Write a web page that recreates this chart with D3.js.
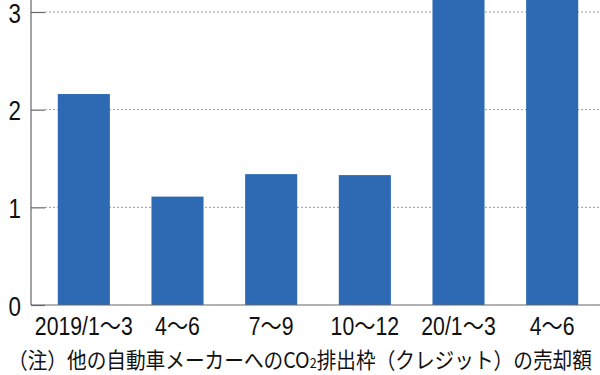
<!DOCTYPE html>
<html>
<head>
<meta charset="utf-8">
<script src="https://cdnjs.cloudflare.com/ajax/libs/d3/7.8.5/d3.min.js"></script>
<style>
  body { margin: 0; background: #fff; }
  svg { display: block; }
</style>
</head>
<body>
<div id="chart"></div>
<script>
// quarters and credit sales (億ドル)
const quarters = ["2019/1～3", "4～6", "7～9", "10～12", "20/1～3", "4～6"];
const sales = [2.16, 1.11, 1.34, 1.33, 3.54, 4.28];
const yTicks = [0, 1, 2, 3];
const note = ["（注）他の自動車メーカーへのCO", "2", "排出枠（クレジット）の売却額"];

const width = 600, height = 375;
const axisX = 31, baseY = 305;
const numFont = "'Liberation Sans', Arial, 'Noto Sans CJK JP', sans-serif";

const svg = d3.select("#chart").append("svg")
    .attr("width", width).attr("height", height);

const x = d3.scaleBand()
    .domain(d3.range(quarters.length))
    .range([37, 599])
    .paddingInner(0.444)
    .paddingOuter(0.222);

const y = d3.scaleLinear()
    .domain([0, 3])
    .range([baseY, 12]);

// gridlines (dotted)
svg.append("g")
  .selectAll("line")
  .data(yTicks.filter(d => d > 0))
  .enter().append("line")
    .attr("x1", axisX + 14).attr("x2", width)
    .attr("y1", d => y(d)).attr("y2", d => y(d))
    .attr("stroke", "#999")
    .attr("stroke-width", 1)
    .attr("stroke-dasharray", "2,2");

// bars
svg.append("g")
  .selectAll("rect")
  .data(sales)
  .enter().append("rect")
    .attr("x", (d, i) => x(i))
    .attr("y", d => y(d))
    .attr("width", x.bandwidth())
    .attr("height", d => baseY - y(d))
    .attr("fill", "#2d6ab3");

// y axis
const yAxis = svg.append("g")
    .attr("transform", `translate(${axisX},0)`)
    .call(d3.axisRight(y).tickValues(yTicks).tickSize(14).tickFormat(d3.format("d")));
yAxis.select(".domain").remove();
yAxis.selectAll(".tick line").attr("stroke", "#666").attr("stroke-width", 1.2);
yAxis.selectAll(".tick text")
    .attr("x", 0)
    .attr("dy", "0.36em")
    .attr("text-anchor", "end")
    .attr("transform", "translate(-10,0) scale(0.8,1)")
    .attr("font-family", numFont)
    .attr("font-size", 28)
    .attr("fill", "#111");

svg.append("line")
    .attr("x1", axisX).attr("x2", axisX)
    .attr("y1", 0).attr("y2", baseY)
    .attr("stroke", "#666").attr("stroke-width", 1.2);
svg.append("line")
    .attr("x1", axisX).attr("x2", width)
    .attr("y1", baseY).attr("y2", baseY)
    .attr("stroke", "#666").attr("stroke-width", 1.2);

// x labels
svg.append("g")
  .selectAll("text")
  .data(quarters)
  .enter().append("text")
    .attr("transform", (d, i) => `translate(${x(i) + x.bandwidth() / 2},335) scale(0.85,1)`)
    .attr("text-anchor", "middle")
    .attr("font-family", numFont)
    .attr("font-size", 25)
    .attr("fill", "#111")
    .text(d => d);

// note
const t = svg.append("text")
    .attr("font-family", "'Noto Sans CJK JP', sans-serif")
    .attr("font-size", 22)
    .attr("fill", "#111");
t.append("tspan").text(note[0]);
t.append("tspan").attr("font-size", 14).text(note[1]);
t.append("tspan").text(note[2]);
const noteW = t.node().getComputedTextLength();
t.attr("transform", `translate(8,368) scale(${584 / noteW},1)`);
</script>
</body>
</html>
